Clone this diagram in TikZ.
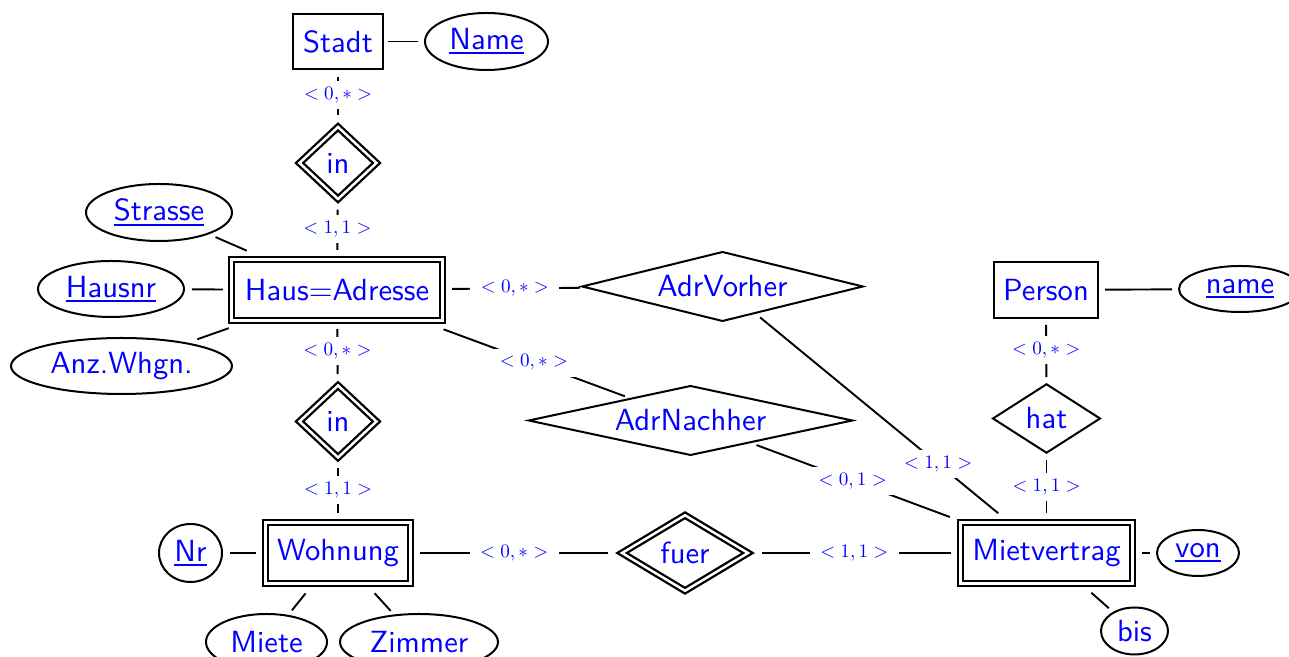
\documentclass[tikz,border=0pt]{standalone}
\usetikzlibrary{shapes.geometric}
\newdimen\pxu
\pxu=0.3268pt
\newcommand\cardtext[1]{\scalebox{0.625}{$#1$}}
% key attribute: text with a solid rule just below the baseline
\newcommand\keyattr[1]{\leavevmode\vtop{\hbox{#1}\kern0.7pt\hrule height0.7pt}}
\begin{document}
\begin{tikzpicture}[
  x=0.3268pt, y=-0.3268pt,
  erbase/.style={font=\fontsize{10}{12}\selectfont\sffamily, text=blue, inner sep=0pt, outer sep=0pt},
  entity/.style={erbase, draw, rectangle, line width=2\pxu},
  weak/.style={erbase, draw, rectangle, double, double distance=2.5\pxu, line width=2.3\pxu},
  attr/.style={erbase, draw, ellipse, line width=2\pxu},
  rel/.style={erbase, draw, diamond, line width=2\pxu},
  identrel/.style={erbase, draw, diamond, double, double distance=2.5\pxu, line width=2.3\pxu},
  card/.style={fill=white, text=blue, inner xsep=10.5\pxu, inner ysep=6\pxu, font=\fontsize{10}{12}\selectfont},
  conn/.style={line width=1.9\pxu},
]
\useasboundingbox (0,0) rectangle (1289,657);

% entities
\node[entity, minimum width=90\pxu, minimum height=55\pxu] (stadt) at (338,41.5) {Stadt};
\node[weak, minimum width=211\pxu, minimum height=61\pxu] (haus) at (337,290) {Haus=Adresse};
\node[weak, minimum width=145\pxu, minimum height=61\pxu] (wohnung) at (338,553) {Wohnung};
\node[weak, minimum width=172\pxu, minimum height=61\pxu] (miet) at (1046.5,553) {Mietvertrag};
\node[entity, minimum width=104\pxu, minimum height=56\pxu] (person) at (1046,290) {Person};

% attributes
\node[attr, minimum width=123\pxu, minimum height=57\pxu] (sname) at (486.5,41.5) {\keyattr{Name}};
\node[attr, minimum width=146\pxu, minimum height=57\pxu] (strasse) at (159,212.5) {\keyattr{Strasse}};
\node[attr, minimum width=146\pxu, minimum height=56\pxu] (hausnr) at (111,289) {\keyattr{Hausnr}};
\node[attr, minimum width=221\pxu, minimum height=56\pxu] (anz) at (121.5,366) {Anz.Whgn.};
\node[attr, minimum width=63\pxu, minimum height=58\pxu] (nr) at (190.5,553) {\keyattr{Nr}};
\node[attr, minimum width=121\pxu, minimum height=56\pxu] (miete) at (266.5,642) {Miete};
\node[attr, minimum width=158\pxu, minimum height=56\pxu] (zimmer) at (419,642) {Zimmer};
\node[attr, minimum width=82\pxu, minimum height=46\pxu] (von) at (1198,553) {\keyattr{von}};
\node[attr, minimum width=67\pxu, minimum height=47\pxu] (bis) at (1134.5,631) {bis};
\node[attr, minimum width=122\pxu, minimum height=46\pxu] (pname) at (1240,289) {\keyattr{name}};

% relationships
\node[identrel, shape aspect=1.07, minimum width=77\pxu, minimum height=72\pxu] (in1) at (338,163) {in};
\node[identrel, shape aspect=1.07, minimum width=77\pxu, minimum height=72\pxu] (in2) at (338,421.5) {in};
\node[identrel, shape aspect=1.67, minimum width=126\pxu, minimum height=75.5\pxu] (fuer) at (685,553) {fuer};
\node[rel, shape aspect=1.56, minimum width=107\pxu, minimum height=68.5\pxu] (hat) at (1046.5,418.5) {hat};
\node[rel, shape aspect=4.07, minimum width=280.5\pxu, minimum height=69\pxu] (vorher) at (722.5,286.5) {AdrVorher};
\node[rel, shape aspect=4.69, minimum width=323.5\pxu, minimum height=69\pxu] (nachher) at (690.5,420.5) {AdrNachher};

% connectors with cardinalities
\draw[conn, shorten <=7.7\pxu, shorten >=12\pxu] (stadt) -- node[card, pos=.45] {\cardtext{<0,*>}} (in1);
\draw[conn, shorten <=11\pxu, shorten >=9.6\pxu] (in1) -- node[card] {\cardtext{<1,1>}} (haus);
\draw[conn, shorten <=8.7\pxu, shorten >=11.5\pxu] (haus) -- node[card, pos=.47] {\cardtext{<0,*>}} (in2);
\draw[conn, shorten <=10.5\pxu, shorten >=9.6\pxu] (in2) -- node[card] {\cardtext{<1,1>}} (wohnung);
\draw[conn, shorten <=9.7\pxu, shorten >=7.2\pxu] (haus) -- node[card] {\cardtext{<0,*>}} (vorher);
\draw[conn, shorten <=25.5\pxu, shorten >=6.8\pxu] (haus) -- node[card, pos=.54] {\cardtext{<0,*>}} (nachher);
\draw[conn, shorten <=6.9\pxu, shorten >=14.5\pxu] (vorher) -- node[card, pos=.72] {\cardtext{<1,1>}} (miet);
\draw[conn, shorten <=7.6\pxu, shorten >=15.7\pxu] (nachher) -- node[card, pos=.48] {\cardtext{<0,1>}} (miet);
\draw[conn, shorten <=9.65\pxu, shorten >=13.8\pxu] (wohnung) -- node[card, pos=.49] {\cardtext{<0,*>}} (fuer);
\draw[conn, shorten <=13.8\pxu, shorten >=10\pxu] (fuer) -- node[card] {\cardtext{<1,1>}} (miet);
\draw[conn, shorten <=7\pxu, shorten >=7.2\pxu] (person) -- node[card, pos=.48] {\cardtext{<0,*>}} (hat);
\draw[conn, shorten <=7.2\pxu, shorten >=9.65\pxu] (hat) -- node[card, pos=.49] {\cardtext{<1,1>}} (miet);

% attribute links
\draw[conn, shorten <=5\pxu, shorten >=7\pxu] (stadt) -- (sname);
\draw[conn, shorten <=7\pxu, shorten >=7\pxu] (person) -- (pname);
\draw[conn, shorten <=9.65\pxu, shorten >=7\pxu] (miet) -- (von);
\draw[conn, shorten <=14\pxu, shorten >=6.6\pxu] (miet) -- (bis);
\draw[conn, shorten <=8\pxu, shorten >=8.65\pxu] (hausnr) -- (haus);
\draw[conn, shorten <=8.5\pxu, shorten >=22\pxu] (strasse) -- (haus);
\draw[conn, shorten <=12\pxu, shorten >=23\pxu] (anz) -- (haus);
\draw[conn, shorten <=8\pxu, shorten >=9.65\pxu] (nr) -- (wohnung);
\draw[conn, shorten <=12.7\pxu, shorten >=7\pxu] (wohnung) -- (miete);
\draw[conn, shorten <=13.2\pxu, shorten >=6\pxu] (wohnung) -- (zimmer);
\end{tikzpicture}
\end{document}
